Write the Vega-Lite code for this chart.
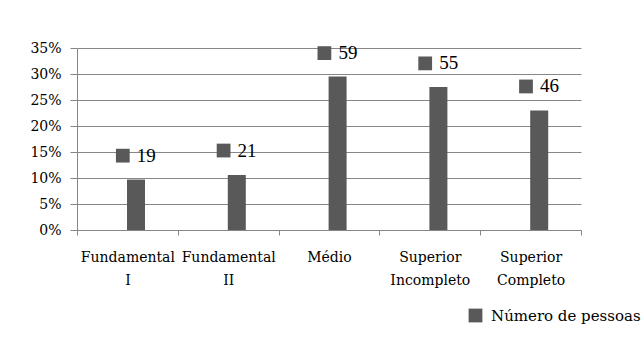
{
  "$schema": "https://vega.github.io/schema/vega-lite/v6.json",
  "width": 504,
  "height": 182,
  "autosize": "none",
  "padding": {"left": 77, "top": 48, "right": 61, "bottom": 109},
  "background": "white",
  "config": {
    "view": {"stroke": null},
    "font": "DejaVu Serif",
    "axis": {"labelFont": "DejaVu Serif", "labelColor": "black", "labelFontSize": 14, "domainColor": "#868686", "tickColor": "#868686", "gridColor": "#868686", "title": null}
  },
  "data": {
    "values": [
      {"nivel": "Fundamental I", "pct": 0.097, "n": 19},
      {"nivel": "Fundamental II", "pct": 0.106, "n": 21},
      {"nivel": "Médio", "pct": 0.295, "n": 59},
      {"nivel": "Superior Incompleto", "pct": 0.275, "n": 55},
      {"nivel": "Superior Completo", "pct": 0.23, "n": 46}
    ]
  },
  "encoding": {
    "x": {
      "field": "nivel",
      "type": "nominal",
      "sort": null,
      "scale": {"paddingInner": 0, "paddingOuter": 0},
      "axis": {
        "labelAngle": 0,
        "tickBand": "extent",
        "tickSize": 5,
        "labelPadding": 15,
        "labelLineHeight": 23,
        "labelExpr": "split(datum.label, ' ')",
        "grid": false
      }
    }
  },
  "layer": [
    {
      "mark": {"type": "bar", "width": 18, "xOffset": 8.6, "color": "#595959"},
      "encoding": {
        "y": {
          "field": "pct",
          "type": "quantitative",
          "scale": {"domain": [0, 0.35], "nice": false},
          "axis": {
            "values": [0, 0.05, 0.1, 0.15, 0.2, 0.25, 0.3, 0.35],
            "format": ".0%",
            "grid": true,
            "tickSize": 7,
            "labelPadding": 9
          }
        }
      }
    },
    {
      "mark": {"type": "point", "shape": "square", "filled": true, "size": 190, "opacity": 1, "xOffset": -4.6},
      "encoding": {
        "y": {"field": "n", "type": "quantitative", "scale": {"domain": [-10, 61], "nice": false, "zero": false}, "axis": null},
        "color": {
          "datum": "Número de pessoas",
          "type": "nominal",
          "scale": {"range": ["#595959"]},
          "legend": {
            "title": null,
            "orient": "none",
            "legendX": 391,
            "legendY": 260,
            "padding": 0,
            "symbolType": "square",
            "symbolSize": 190,
            "symbolOpacity": 1,
            "symbolStrokeWidth": 0,
            "labelFont": "DejaVu Serif",
            "labelFontSize": 15,
            "labelColor": "black",
            "labelOffset": 8
          }
        }
      }
    },
    {
      "mark": {"type": "text", "align": "left", "baseline": "middle", "xOffset": -4.6, "dx": 14, "fontSize": 19, "font": "Liberation Serif", "color": "black"},
      "encoding": {
        "y": {"field": "n", "type": "quantitative", "scale": {"domain": [-10, 61], "nice": false, "zero": false}, "axis": null},
        "text": {"field": "n", "type": "quantitative"}
      }
    }
  ],
  "resolve": {"scale": {"y": "independent", "color": "independent"}}
}
